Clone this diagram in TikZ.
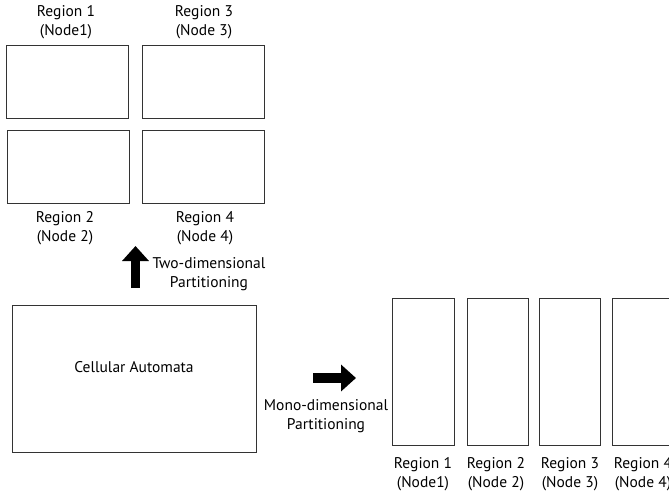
\documentclass[tikz,border=0pt]{standalone}
\usepackage{fontspec}
\setmainfont{PT Sans}
\usetikzlibrary{arrows.meta}
\begin{document}
\begin{tikzpicture}[x=1pt,y=-1pt,
  box/.style={draw=black!80,line width=0.9pt},
  lbl/.style={align=center,font=\fontsize{15.5}{19}\selectfont,inner sep=0pt},
  bigarrow/.style={line width=9.5pt,-{Triangle[length=15pt,width=26pt]}}]
\useasboundingbox (0,0) rectangle (669,495);
\clip (0,0) rectangle (669,495);
% two-dimensional partition
\draw[box] (6,45) rectangle (128,118) node[midway] (r1) {};
\draw[box] (142,45) rectangle (264,118) node[midway] (r3) {};
\draw[box] (7,130) rectangle (129,203) node[midway] (r2) {};
\draw[box] (142,130) rectangle (264,203) node[midway] (r4) {};
\node[lbl] (t1) at (66,22) {Region 1\\(Node1)};
\node[lbl] (t3) at (204,22) {Region 3\\(Node 3)};
\node[lbl] (t2) at (65,228) {Region 2\\(Node 2)};
\node[lbl] (t4) at (205,228) {Region 4\\(Node 4)};
% up arrow
\coordinate (ua) at (135.5,288);
\coordinate (ub) at (135.5,246);
\draw[bigarrow] (ua) -- (ub);
\node[lbl] (two) at (209,274) {Two-dimensional\\Partitioning};
% cellular automata
\draw[box] (12,305) rectangle (256,452);
\node[lbl] (ca) at (134,367) {Cellular Automata};
% right arrow
\coordinate (ra) at (313,378);
\coordinate (rb) at (356,378);
\draw[bigarrow] (ra) -- (rb);
\node[lbl] (mono) at (326,416) {Mono-dimensional\\Partitioning};
% mono-dimensional partition
\draw[box] (392,298) rectangle (454,445);
\draw[box] (467,298) rectangle (528,445);
\draw[box] (539,298) rectangle (600,445);
\draw[box] (612,298) rectangle (674,445);
\node[lbl] (m1) at (423,474) {Region 1\\(Node1)};
\node[lbl] (m2) at (496,474) {Region 2\\(Node 2)};
\node[lbl] (m3) at (570,474) {Region 3\\(Node 3)};
\node[lbl] (m4) at (643,474) {Region 4\\(Node 4)};
\end{tikzpicture}
\end{document}
